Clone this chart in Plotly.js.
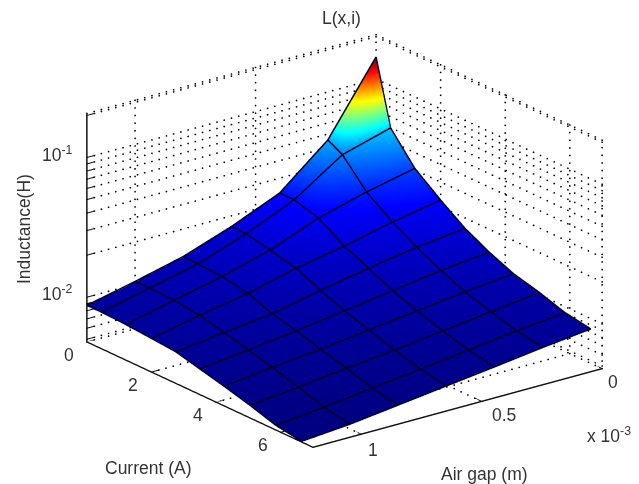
<!DOCTYPE html>
<html><head><meta charset="utf-8">
<script src="https://cdn.plot.ly/plotly-3.0.1.min.js"></script>
<style>html,body{margin:0;padding:0;background:#fff}#c{width:639px;height:484px}</style></head>
<body><div id="c"></div>
<script>
const airGap = [0, 0.2e-3, 0.4e-3, 0.6e-3, 0.8e-3, 1.0e-3, 1.2e-3];
const current = [0, 0.45, 1.2, 2, 2.75, 3.5, 4.25, 5.05, 5.85, 6.65];
const inductance = [
 [0.1417,0.0448,0.0232,0.01657,0.01255,0.01033,0.00865],
 [0.0492,0.0393,0.0232,0.01643,0.01242,0.01037,0.00865],
 [0.03044,0.0256,0.0207,0.01514,0.01216,0.0102,0.00851],
 [0.022,0.01906,0.0159,0.01371,0.01126,0.0097,0.00824],
 [0.01667,0.01514,0.01327,0.01145,0.0097,0.0088,0.00797],
 [0.01356,0.01242,0.01107,0.00987,0.0088,0.00797,0.00722],
 [0.01145,0.01054,0.00956,0.00865,0.00783,0.00722,0.00654],
 [0.01026,0.00924,0.00837,0.00758,0.00698,0.00633,0.00583],
 [0.00894,0.00824,0.00746,0.00676,0.00613,0.00555,0.00511],
 [0.00834,0.00763,0.00687,0.00623,0.00564,0.00511,0.00479]];
const gapTicks = [0, 0.5e-3, 1e-3];
const gapTickText = ['0','0.5','1'];
const currentTicks = [0,2,4,6];
const zTicks = [0.005,0.006,0.007,0.008,0.009,0.01,0.02,0.03,0.04,0.05,0.06,0.07,0.08,0.09,0.1,0.2];
const zLabelled = [0.01,0.1];
const zLabelText = ['10<sup>-2</sup>','10<sup>-1</sup>'];
const gapMax=1.2e-3, curMax=7, logMin=-2.32, logMax=-0.684;
const zMin=Math.pow(10,logMin), zMax=Math.pow(10,logMax);
const jet=[[0,'rgb(0,0,128)'],[0.125,'rgb(0,0,255)'],[0.375,'rgb(0,255,255)'],[0.625,'rgb(255,255,0)'],[0.875,'rgb(255,0,0)'],[1,'rgb(128,0,0)']];

const traces=[];
function seg(xs,ys,zs,color,width){
  return {type:'scatter3d',mode:'lines',x:xs,y:ys,z:zs,hoverinfo:'skip',showlegend:false,line:{color:color,width:width}};
}
const dx=[],dy=[],dz=[];
function dots(x0,x1,y0,y1,z0,z1,n){
  const a=Math.log10(z0),b=Math.log10(z1);
  for(let k=0;k<=n;k++){const t=k/n;
    dx.push(x0+(x1-x0)*t);dy.push(y0+(y1-y0)*t);dz.push(Math.pow(10,a+(b-a)*t));}
}
const nG=40,nC=33,nZ=30;
gapTicks.forEach(g=>{dots(g,g,0,curMax,zMin,zMin,nC);dots(g,g,0,0,zMin,zMax,nZ);});
currentTicks.forEach(c=>{dots(0,gapMax,c,c,zMin,zMin,nG);dots(0,0,c,c,zMin,zMax,nZ);});
dots(0,0,curMax,curMax,zMin,zMax,nZ);
zTicks.concat([zMax]).forEach(z=>{dots(0,gapMax,0,0,z,z,nG);dots(0,0,0,curMax,z,z,nC);});
traces.push({type:'scatter3d',mode:'markers',x:dx,y:dy,z:dz,hoverinfo:'skip',showlegend:false,
  marker:{size:1,color:'#000',line:{width:0}}});

traces.push({type:'surface',x:airGap,y:current,z:inductance,surfacecolor:inductance,
  colorscale:jet,cmin:0.00479,cmax:0.1417,showscale:false,hoverinfo:'skip',
  lighting:{ambient:1,diffuse:0,specular:0,fresnel:0,roughness:1},
  contours:{x:{highlight:false},y:{highlight:false},z:{highlight:false}}});
const lift=1.012;
current.forEach((c,r)=>traces.push(seg(airGap,airGap.map(()=>c),inductance[r].map(v=>v*lift),'#000028',3)));
airGap.forEach((g,k)=>traces.push(seg(current.map(()=>g),current,inductance.map(row=>row[k]*lift),'#000028',3)));

const tickGap=0.035e-3, tickCur=0.2;
zTicks.forEach(z=>traces.push(seg([gapMax,gapMax-tickGap],[0,0],[z,z],'#111',2)));
currentTicks.forEach(c=>traces.push(seg([gapMax,gapMax-tickGap],[c,c],[zMin,zMin],'#111',2)));
gapTicks.forEach(g=>traces.push(seg([g,g],[curMax,curMax-tickCur],[zMin,zMin],'#111',2)));

const axisBase={showgrid:false,zeroline:false,showbackground:false,showline:true,linecolor:'#111',linewidth:3,
  ticks:'',showspikes:false,title:{text:''},showticklabels:false};
const tf={family:'Liberation Sans',size:17.5,color:'#333'};
const ann=(text,x,y,extra)=>Object.assign({text:text,xref:'paper',yref:'paper',x:x/639,y:1-y/484,xanchor:'center',yanchor:'middle',showarrow:false,font:tf},extra||{});
const tick=(text,x,y,z,sx,sy)=>({text:text,x:x,y:y,z:Math.log10(z),showarrow:false,xanchor:'center',yanchor:'middle',xshift:sx,yshift:sy,font:tf});
const sceneAnn=[];
zLabelled.forEach((z,k)=>sceneAnn.push(tick(zLabelText[k],gapMax,0,z,-29,4)));
currentTicks.forEach((c,k)=>sceneAnn.push(tick(String(c),gapMax,c,zMin,-18,-13)));
const gapShift=[[11,-13],[22,-14],[12,-16]];
gapTicks.forEach((g,k)=>sceneAnn.push(tick(gapTickText[k],g,curMax,zMin,gapShift[k][0],gapShift[k][1])));
const layout={width:639,height:484,margin:{l:0,r:0,t:0,b:0},paper_bgcolor:'#fff',showlegend:false,
 scene:{domain:{x:[50/639,1],y:[2/484,1]},
  aspectmode:'manual',aspectratio:{x:1.51,y:1.545,z:1.015},
  camera:{projection:{type:'orthographic'},up:{x:0,y:0,z:1},center:{x:0,y:0,z:0},eye:{x:1.134,y:1.484,z:0.712}},
  xaxis:Object.assign({},axisBase,{range:[0,gapMax]}),
  yaxis:Object.assign({},axisBase,{range:[0,curMax]}),
  zaxis:Object.assign({},axisBase,{type:'log',range:[logMin,logMax]}),
  annotations:sceneAnn
 },
 annotations:[
  ann('L(x,i)',341,18),
  ann('Inductance(H)',24,229,{textangle:-90}),
  ann('Current (A)',148,468),
  ann('Air gap (m)',484,474),
  ann('x 10<sup>-3</sup>',609,435)
 ]};
Plotly.newPlot('c',traces,layout,{displayModeBar:false});
</script></body></html>
